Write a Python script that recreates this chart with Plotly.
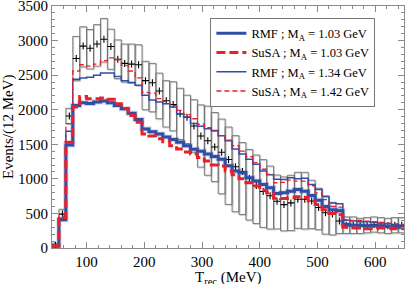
import plotly.graph_objects as go

# ---- data (12 MeV bins from 40 MeV) ----
bin_start = 40
bin_width = 12
n_bins = 51

data_events = [40, 490, 1910, 2740, 2920, 2890, 2950, 3020, 2915, 2730,
               2670, 2660, 2650, 2420, 2390, 2270, 2130, 2075, 1940, 1890,
               1765, 1620, 1552, 1460, 1385, 1280, 1175, 1105, 1005, 905,
               818, 755, 676, 628, 652, 705, 705, 680, 585, 510,
               490, 390, 330, 330, 320, 330, 340, 330, 320, 330, 330]
err_up = [30, 70, 110, 320, 280, 270, 280, 300, 250, 280,
          280, 290, 290, 280, 280, 260, 290, 330, 370, 320,
          380, 450, 500, 500, 480, 470, 450, 420, 420, 440,
          460, 430, 380, 400, 400, 390, 390, 300, 280, 230,
          170, 170, 120, 120, 110, 110, 110, 110, 110, 110, 110]
err_dn = [30, 70, 110, 320, 300, 300, 320, 330, 330, 280,
          270, 260, 300, 420, 420, 400, 380, 380, 370, 380,
          380, 450, 500, 500, 600, 650, 650, 620, 600, 550,
          520, 480, 400, 380, 400, 420, 430, 400, 320, 310,
          300, 180, 120, 120, 110, 110, 110, 110, 110, 110, 110]

rmf_103 = [30, 410, 1490, 2060, 2100, 2090, 2110, 2125, 2100, 2060,
           2015, 1950, 1860, 1720, 1680, 1650, 1605, 1570, 1530, 1480,
           1430, 1400, 1358, 1324, 1285, 1190, 1115, 1090, 1017, 968,
           920, 872, 790, 798, 822, 847, 822, 760, 690, 600,
           555, 540, 340, 330, 330, 320, 320, 320, 310, 310, 300]
susa_103 = [30, 440, 1530, 2040, 2190, 2160, 2160, 2170, 2150, 2088,
            2015, 1917, 1820, 1650, 1620, 1580, 1537, 1479, 1431, 1390,
            1358, 1309, 1260, 1200, 1187, 1114, 1060, 1000, 944, 895,
            837, 798, 720, 715, 725, 740, 730, 680, 628, 555,
            500, 480, 300, 290, 290, 280, 280, 290, 290, 280, 280]
rmf_134 = [30, 430, 1690, 2440, 2460, 2470, 2500, 2530, 2530, 2480,
           2420, 2390, 2355, 2209, 2140, 2110, 2088, 2039, 1942, 1893,
           1800, 1760, 1723, 1698, 1625, 1552, 1431, 1358, 1285, 1212,
           1114, 1060, 995, 990, 1017, 1000, 1010, 920, 847, 749,
           650, 640, 400, 390, 380, 380, 370, 360, 350, 340, 330]
susa_142 = [30, 460, 1800, 2560, 2650, 2630, 2660, 2710, 2750, 2720,
            2640, 2560, 2460, 2250, 2240, 2160, 2120, 2060, 1990, 1930,
            1869, 1790, 1740, 1690, 1625, 1560, 1479, 1400, 1320, 1236,
            1139, 1066, 944, 950, 983, 968, 968, 900, 798, 701,
            600, 590, 410, 400, 400, 390, 380, 370, 360, 350, 340]

legend_names = ["RMF ; M<sub>A</sub> = 1.03 GeV", "SuSA ; M<sub>A</sub> = 1.03 GeV",
                "RMF ; M<sub>A</sub> = 1.34 GeV", "SuSA ; M<sub>A</sub> = 1.42 GeV"]

x_ticks = [100, 200, 300, 400, 500, 600]
y_ticks = [0, 500, 1000, 1500, 2000, 2500, 3000, 3500]

# ---- derived ----
edges = [bin_start + bin_width * k for k in range(n_bins + 1)]
centers = [e + bin_width / 2 for e in edges[:-1]]

FONT = "Liberation Serif, Times New Roman, serif"
BLUE = "#2f4fa6"
RED = "#e8202a"

fig = go.Figure()


def box_trace(dx, dy, color, width):
    xs, ys = [], []
    for k in range(n_bins):
        x0, x1 = edges[k] + dx, edges[k + 1] + dx
        lo = data_events[k] - err_dn[k] + dy
        hi = data_events[k] + err_up[k] + dy
        xs += [x0, x1, x1, x0, x0, None]
        ys += [lo, lo, hi, hi, lo, None]
    return go.Scatter(x=xs, y=ys, mode="lines", line=dict(color=color, width=width),
                      showlegend=False, hoverinfo="skip")


# shadow + box outlines
fig.add_trace(box_trace(1.4, -12, "#d2d2d2", 1.2))
fig.add_trace(box_trace(0, 0, "#707070", 0.9))

# data crosses
fig.add_trace(go.Scatter(x=centers, y=data_events, mode="markers",
                         marker=dict(symbol="cross-thin", size=5,
                                     line=dict(color="black", width=1.1)),
                         showlegend=False))


def step(vals, name, color, width, dash, rank, legend=True):
    return go.Scatter(x=edges, y=vals + [vals[-1]], mode="lines", line_shape="hv",
                      name=name, legendrank=rank, showlegend=legend,
                      hoverinfo="skip" if not legend else None,
                      line=dict(color=color, width=width, dash=dash))


fig.add_trace(step(rmf_134, legend_names[2], BLUE, 1.5, "solid", 3))
fig.add_trace(step(susa_142, legend_names[3], RED, 1.3, "5px,3px", 4))
# soft halo under the thick RMF line
fig.add_trace(step(rmf_103, "", "rgba(47,79,166,0.25)", 5, "solid", 9, legend=False))
fig.add_trace(step(rmf_103, legend_names[0], BLUE, 3, "solid", 1))
fig.add_trace(step(susa_103, legend_names[1], RED, 3, "9px,4px", 2))

axis_common = dict(showline=True, linecolor="#8a8a8a", linewidth=1, mirror="allticks",
                   ticks="inside", tickcolor="#8a8a8a", ticklen=6, showgrid=False,
                   zeroline=False, automargin=False, ticklabeloverflow="allow",
                   tickfont=dict(family=FONT, size=15, color="black"))

fig.update_layout(
    width=406, height=284,
    margin=dict(l=52, r=2, t=6, b=36),
    paper_bgcolor="white", plot_bgcolor="white",
    font=dict(family=FONT, size=15, color="black"),
    xaxis=dict(range=[40, 650], tickvals=x_ticks,
               minor=dict(dtick=20, ticks="inside", ticklen=3, tickcolor="#8a8a8a"),
               **axis_common),
    yaxis=dict(range=[0, 3500], tickvals=y_ticks,
               minor=dict(dtick=100, ticks="inside", ticklen=3, tickcolor="#8a8a8a"),
               **axis_common),
    legend=dict(x=0.45, y=0.952, xanchor="left", yanchor="top",
                bgcolor="white", bordercolor="#777777", borderwidth=1,
                font=dict(family=FONT, size=12.5), tracegroupgap=0,
                itemwidth=30),
    showlegend=True,
    annotations=[
        dict(text="T<sub>rec</sub> (MeV)", xref="paper", yref="paper",
             x=0.5, y=-0.125, xanchor="center", yanchor="middle", showarrow=False,
             font=dict(family=FONT, size=15)),
        dict(text="Events/(12 MeV)", xref="paper", yref="paper",
             x=-0.125, y=0.5, xanchor="center", yanchor="middle", showarrow=False,
             textangle=-90, font=dict(family=FONT, size=15)),
    ],
)

fig.write_html("out.html", config={"displayModeBar": False},
               post_script="document.body.style.margin='0px';"
                           "document.body.style.overflow='hidden';")
